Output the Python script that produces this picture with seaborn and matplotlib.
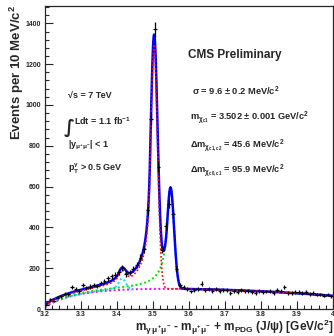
import numpy as np
import matplotlib
matplotlib.use("Agg")
import matplotlib.pyplot as plt
import seaborn as sns
from matplotlib.ticker import MultipleLocator

# Binned data, 10 MeV bins starting at 3.2 GeV
bin_lo = 3.2
bin_width = 0.01
counts = [22, 48, 40, 55, 62, 75, 72, 108, 96, 90,
          118, 102, 110, 118, 114, 128, 136, 150, 160, 168,
          182, 200, 172, 180, 196, 215, 252, 292, 483, 932,
          1370, 698, 290, 405, 517, 468, 195, 118, 107,
          98, 86, 95, 100, 124, 92, 97, 90, 96, 88,
          95, 92, 80, 88, 84, 92, 86, 90, 85, 78,
          88, 82, 86, 90, 80, 92, 88, 108, 80, 78,
          82, 84, 80, 82, 74, 78, 70, 72, 66, 70, 62]

# Fit results (background shape + three crystal-ball peaks)
bkg_norm = 102
bkg_curv = 1.2
bkg_thr = 3.195
bkg_tau = 0.076
bkg_pow = 0.9
chi_mass = [3.414, 3.503, 3.5486]
chi_sigma = [0.010, 0.0096, 0.0098]
chi_alpha = [1.0, 1.2, 0.9]
chi_n = [2.0, 1.2, 1.5]
chi_amp = [55, 1190, 497]


def crystal_ball(x, m, s, a, n):
    t = (x - m) / s
    out = np.exp(-0.5 * t ** 2)
    tail = t < -a
    A = (n / a) ** n * np.exp(-0.5 * a * a)
    B = n / a - a
    out[tail] = A * (B - t[tail]) ** (-n)
    return out


def background(x):
    t = np.clip(x - bkg_thr, 0, None)
    rise = 1 - np.exp(-(t / bkg_tau) ** bkg_pow)
    return bkg_norm * (1 - bkg_curv * (x - 3.45) ** 2) * rise


counts = np.array(counts, dtype=float)
centers = bin_lo + bin_width * (np.arange(len(counts)) + 0.5)

xs = np.linspace(3.2, 4.0, 1601)
bkg = background(xs)
chi = [chi_amp[i] * crystal_ball(xs, chi_mass[i], chi_sigma[i], chi_alpha[i], chi_n[i])
       for i in range(3)]
total = bkg + chi[0] + chi[1] + chi[2]

sns.set_style("ticks")
plt.rcParams["font.family"] = ["Liberation Sans", "DejaVu Sans"]
plt.rcParams["font.weight"] = "bold"
plt.rcParams["mathtext.fontset"] = "custom"
plt.rcParams["mathtext.rm"] = "Liberation Sans:bold"
plt.rcParams["mathtext.it"] = "Liberation Sans:bold"
plt.rcParams["mathtext.bf"] = "Liberation Sans:bold"
plt.rcParams["mathtext.sf"] = "Liberation Sans:bold"

fig = plt.figure(figsize=(3.34, 3.36), dpi=100)
ax = fig.add_axes([45 / 334, 1 - 309 / 336, 288 / 334, 303 / 336])

dot = (0, (1, 1.3))
sns.lineplot(x=xs, y=bkg, color="#ff00ff", lw=1.4, linestyle=dot, ax=ax)
m0 = chi[0] > 0.5
sns.lineplot(x=xs[m0], y=(bkg + chi[0])[m0], color="#00e5ff", lw=1.4, linestyle=dot, ax=ax)
sns.lineplot(x=xs, y=bkg + chi[2], color="#00e000", lw=1.4, linestyle=dot, ax=ax)
sns.lineplot(x=xs, y=total, color="#0000ff", lw=1.8, ax=ax)
sns.lineplot(x=xs, y=bkg + chi[0] + chi[1], color="#ff0000", lw=1.2, linestyle=dot, ax=ax)

ax.errorbar(centers, counts, yerr=np.sqrt(counts), xerr=bin_width / 2,
            fmt="none", ecolor="black", elinewidth=0.9, capsize=0, zorder=5)

ax.set_xlim(3.2, 4.0)
ax.set_ylim(0, 1485)
ax.xaxis.set_major_locator(MultipleLocator(0.1))
ax.xaxis.set_minor_locator(MultipleLocator(0.02))
ax.yaxis.set_major_locator(MultipleLocator(200))
ax.yaxis.set_minor_locator(MultipleLocator(40))
ax.tick_params(which="both", direction="in", width=0.8, labelsize=5)
ax.tick_params(which="major", length=6)
ax.tick_params(which="minor", length=3)
ax.tick_params(axis="y", pad=3)
ax.tick_params(axis="x", pad=1.8)
for lab in ax.get_yticklabels():
    lab.set_fontweight("bold")
ax.set_xticks(np.arange(3.2, 4.01, 0.1))
ax.set_xticklabels(["3.2", "3.3", "3.4", "3.5", "3.6", "3.7", "3.8", "3.9", "4"],
                   fontweight="bold")
for sp in ax.spines.values():
    sp.set_linewidth(0.9)
ax.set_xlabel("")
ax.set_ylabel("")

fig.text(17 / 334, 1 - 5 / 336, "Events per 10 MeV/c$^2$", rotation=90,
         ha="center", va="top", fontsize=9.5, fontweight="bold")
fig.text(1.0, 1 - 331 / 336,
         r"m$_{\gamma\,\mu^{+}\mu^{-}}$ - m$_{\mu^{+}\mu^{-}}$ + m$_{PDG}$ (J/$\psi$) [GeV/c$^2$]",
         ha="right", va="baseline", fontsize=8.6, fontweight="bold")


def put(x, y, s, size=6.7):
    fig.text(x / 334, 1 - y / 336, s, ha="left", va="baseline",
             fontsize=size, fontweight="bold")


put(188, 58, "CMS Preliminary", size=8.5)
put(192, 95, "σ = 9.6 ± 0.2 MeV/c$^2$")
put(190, 121, r"m$_{\chi_{c1}}$ = 3.502 ± 0.001 GeV/c$^2$")
put(190, 148, r"Δm$_{\chi_{c1,c2}}$ = 45.6 MeV/c$^2$")
put(190, 173, r"Δm$_{\chi_{c0,c1}}$ = 95.9 MeV/c$^2$")

put(68, 98, "√s = 7 TeV", size=6.5)
fig.text(63.5 / 334, 1 - 133 / 336, "∫", ha="left", va="baseline", fontsize=13,
         family="DejaVu Sans")
put(74.5, 125, "Ldt = 1.1 fb$^{-1}$", size=6.5)
put(68, 148, r"|y$_{\mu^{+}\mu^{-}}$| < 1", size=6.5)
put(68, 171, r"p$_T^{\gamma}$ > 0.5 GeV", size=6.5)

fig.savefig("out.png", dpi=100)
